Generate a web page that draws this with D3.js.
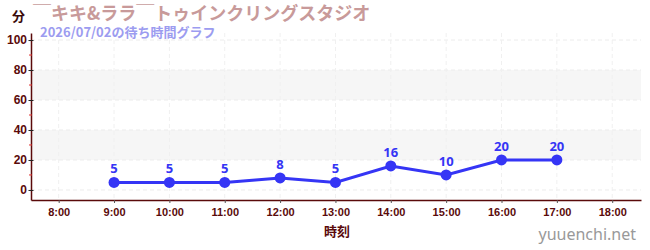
<!DOCTYPE html>
<html>
<head>
<meta charset="utf-8">
<script src="https://cdn.jsdelivr.net/npm/d3@7"></script>
<style>
  body { margin: 0; background: #fff; }
  svg { display: block; }
</style>
</head>
<body>
<div id="chart"></div>
<script>
// wait times for the day
const hours = [9, 10, 11, 12, 13, 14, 15, 16, 17];
const waits = [5, 5, 5, 8, 5, 16, 10, 20, 20];
const xTicks = [8, 9, 10, 11, 12, 13, 14, 15, 16, 17, 18];
const yTicks = [0, 20, 40, 60, 80, 100];
const yMinor = [10, 30, 50, 70, 90];
const bands = [[20, 40], [60, 80]];

const title = "￣キキ&ララ￣トゥインクリングスタジオ";
const subtitle = "2026/07/02の待ち時間グラフ";

const width = 650, height = 250;
const margin = { top: 33, right: 9, bottom: 50, left: 31 };

const svg = d3.select("#chart").append("svg")
  .attr("width", width)
  .attr("height", height);

const x = d3.scaleLinear()
  .domain([7.5, 18.52])
  .range([margin.left, width - margin.right]);

const y = d3.scaleLinear()
  .domain([-6.7, 104.7])
  .range([height - margin.bottom, margin.top]);

const axisColor = "#5a0a0a";
const font = "'Liberation Sans Narrow', 'Liberation Sans', 'Noto Sans CJK JP', sans-serif";

// background bands
svg.append("g").selectAll("rect")
  .data(bands)
  .join("rect")
  .attr("x", x.range()[0])
  .attr("width", x.range()[1] - x.range()[0])
  .attr("y", (d) => y(d[1]))
  .attr("height", (d) => y(d[0]) - y(d[1]))
  .attr("fill", "#f6f6f6");

// grid
let grid = svg.append("g").attr("stroke", "#ececec").attr("stroke-dasharray", "4,3");
grid.selectAll("line.h")
  .data(yTicks)
  .join("line")
  .attr("class", "h")
  .attr("x1", x.range()[0]).attr("x2", x.range()[1])
  .attr("y1", (d) => y(d)).attr("y2", (d) => y(d));
grid.selectAll("line.v")
  .data(xTicks)
  .join("line")
  .attr("class", "v")
  .attr("stroke", "#f0f0f0")
  .attr("x1", (d) => x(d)).attr("x2", (d) => x(d))
  .attr("y1", y.range()[1]).attr("y2", y.range()[0]);

// axes
let xAxis = svg.append("g")
  .attr("transform", `translate(0,${y.range()[0]})`)
  .call(d3.axisBottom(x).tickValues(xTicks).tickSize(3).tickSizeOuter(0)
    .tickFormat((d) => `${d}:00`));
xAxis.select(".domain").attr("stroke", axisColor).attr("stroke-width", 1.5);
xAxis.selectAll(".tick line").attr("stroke", "#555");
xAxis.selectAll("text")
  .attr("fill", axisColor)
  .attr("font-family", font)
  .attr("font-size", 11)
  .attr("font-weight", "bold")
  .attr("dy", "0.9em");

let yAxis = svg.append("g")
  .attr("transform", `translate(${x.range()[0]},0)`)
  .call(d3.axisLeft(y).tickValues(yTicks).tickSize(5).tickSizeOuter(0));
yAxis.select(".domain").attr("stroke", axisColor).attr("stroke-width", 1.5);
yAxis.selectAll(".tick line").attr("stroke", "#222").attr("transform", "translate(2.5,0)");
yAxis.selectAll("text")
  .attr("fill", axisColor)
  .attr("font-family", font)
  .attr("font-size", 12)
  .attr("font-weight", "bold")
  .attr("x", -4);

// minor ticks in red
svg.append("g").selectAll("line")
  .data(yMinor)
  .join("line")
  .attr("x1", x.range()[0] - 2).attr("x2", x.range()[0] + 1)
  .attr("y1", (d) => y(d)).attr("y2", (d) => y(d))
  .attr("stroke", "#e03030");

// line + points
const blue = "#3535f5";
const pts = hours.map((h, i) => ({ h: h, v: waits[i] }));

svg.append("path")
  .datum(pts)
  .attr("fill", "none")
  .attr("stroke", blue)
  .attr("stroke-width", 3)
  .attr("d", d3.line().x((d) => x(d.h)).y((d) => y(d.v)));

svg.append("g").selectAll("circle")
  .data(pts)
  .join("circle")
  .attr("cx", (d) => x(d.h))
  .attr("cy", (d) => y(d.v))
  .attr("r", 5.5)
  .attr("fill", blue);

svg.append("g").selectAll("text")
  .data(pts)
  .join("text")
  .attr("x", (d) => x(d.h))
  .attr("y", (d) => y(d.v) - 9)
  .attr("text-anchor", "middle")
  .attr("font-family", "'Noto Sans', sans-serif")
  .attr("font-size", 13)
  .attr("font-weight", "bold")
  .attr("fill", blue)
  .text((d) => d.v);

// titles
svg.append("text")
  .attr("x", 33).attr("y", 20)
  .attr("font-family", "'Noto Sans CJK JP', sans-serif")
  .attr("font-size", 18)
  .attr("font-weight", "bold")
  .attr("fill", "#c89a9a")
  .text(title);

svg.append("text")
  .attr("x", 40).attr("y", 37)
  .attr("font-family", "'Noto Sans CJK JP', sans-serif")
  .attr("font-size", 13)
  .attr("font-weight", "bold")
  .attr("fill", "#9c9cf0")
  .text(subtitle);

svg.append("text")
  .attr("x", 12).attr("y", 21)
  .attr("font-family", "'Noto Sans CJK JP', sans-serif")
  .attr("font-size", 13)
  .attr("font-weight", "bold")
  .attr("fill", "#3a0a0a")
  .text("分");

svg.append("text")
  .attr("x", 337).attr("y", 236)
  .attr("text-anchor", "middle")
  .attr("font-family", "'Noto Sans CJK JP', sans-serif")
  .attr("font-size", 13)
  .attr("font-weight", "bold")
  .attr("fill", axisColor)
  .text("時刻");

svg.append("text")
  .attr("x", 636).attr("y", 240)
  .attr("text-anchor", "end")
  .attr("font-family", "'Noto Sans', sans-serif")
  .attr("font-size", 16)
  .attr("fill", "#999")
  .text("yuuenchi.net");
</script>
</body>
</html>
